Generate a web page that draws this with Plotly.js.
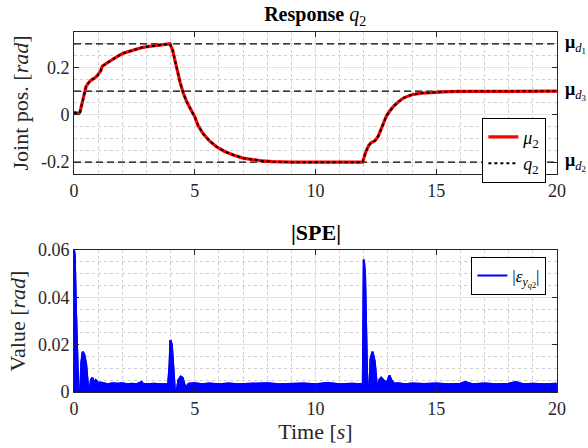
<!DOCTYPE html>
<html>
<head>
<meta charset="utf-8">
<script src="https://cdn.plot.ly/plotly-3.0.1.min.js"></script>
<style>html,body{margin:0;padding:0;background:#fff;}#chart{width:588px;height:448px;}</style>
</head>
<body>
<div id="chart"></div>
<script>
// ---- data ----
var tResp = [0, 0.1, 0.2, 0.25, 0.35, 0.5, 0.6, 0.7, 0.85, 0.97, 1.1, 1.17, 1.35, 1.56, 1.8, 2.03, 2.4, 2.8, 3.1, 3.43, 3.7, 3.97, 4.08, 4.18, 4.29, 4.4, 4.52, 4.67, 4.83, 5.0, 5.14, 5.35, 5.6, 5.9, 6.24, 6.6, 7.0, 7.4, 7.8, 8.2, 8.6, 9.0, 10.0, 11.0, 11.95, 12.08, 12.2, 12.3, 12.47, 12.6, 12.7, 12.82, 12.94, 13.1, 13.25, 13.45, 13.64, 13.85, 14.03, 14.4, 14.8, 15.2, 15.5, 16.0, 17.0, 18.0, 19.0, 20.0];
var mu2 = [0.01, 0.008, 0.006, 0.012, 0.06, 0.12, 0.135, 0.146, 0.155, 0.166, 0.185, 0.205, 0.218, 0.233, 0.247, 0.26, 0.272, 0.284, 0.289, 0.295, 0.297, 0.3, 0.275, 0.23, 0.177, 0.135, 0.093, 0.055, 0.024, -0.008, -0.046, -0.08, -0.109, -0.135, -0.155, -0.17, -0.183, -0.19, -0.195, -0.198, -0.2, -0.2, -0.2, -0.2, -0.2, -0.157, -0.13, -0.118, -0.109, -0.09, -0.067, -0.035, -0.004, 0.02, 0.038, 0.056, 0.071, 0.08, 0.086, 0.092, 0.095, 0.097, 0.098, 0.099, 0.1, 0.1, 0.1, 0.1];
var q2 = [0.01, 0.008, 0.006, 0.012, 0.06, 0.12, 0.135, 0.146, 0.155, 0.166, 0.185, 0.205, 0.218, 0.233, 0.247, 0.26, 0.272, 0.284, 0.289, 0.295, 0.297, 0.3, 0.275, 0.23, 0.177, 0.135, 0.093, 0.055, 0.024, -0.008, -0.046, -0.08, -0.109, -0.135, -0.155, -0.17, -0.183, -0.19, -0.195, -0.198, -0.2, -0.2, -0.2, -0.2, -0.2, -0.157, -0.13, -0.118, -0.109, -0.09, -0.067, -0.035, -0.004, 0.02, 0.038, 0.056, 0.071, 0.08, 0.086, 0.092, 0.095, 0.097, 0.098, 0.099, 0.1, 0.1, 0.1, 0.1];
var muD = [0.3, 0.1, -0.2];
var muDLabels = ['1', '3', '2'];
var tRange = [0, 20];

var tErr = [0, 0.03, 0.08, 0.14, 0.18, 0.26, 0.3, 0.36, 0.42, 0.5, 0.56, 0.6, 0.64, 0.7, 0.76, 0.82, 0.9, 1.0, 1.1, 1.25, 1.4, 1.6, 1.8, 2.0, 2.2, 2.4, 2.6, 2.8, 2.85, 3.0, 3.3, 3.6, 3.9, 3.96, 3.99, 4.05, 4.12, 4.18, 4.25, 4.32, 4.42, 4.5, 4.58, 4.64, 4.75, 5.0, 5.3, 5.6, 6.0, 6.4, 6.8, 7.2, 7.6, 8.0, 8.5, 9.0, 9.5, 10.0, 10.5, 11.0, 11.5, 11.96, 12.0, 12.05, 12.1, 12.15, 12.22, 12.28, 12.36, 12.45, 12.53, 12.58, 12.64, 12.72, 12.82, 12.92, 13.0, 13.06, 13.14, 13.25, 13.4, 13.7, 14.0, 14.5, 15.0, 15.5, 16.0, 16.2, 16.5, 17.0, 17.5, 18.0, 18.3, 18.6, 19.0, 19.5, 19.95, 20.0];
var errSPE = [0.06, 0.058, 0.035, 0.006, 0.0, 0.0, 0.012, 0.017, 0.016, 0.012, 0.004, 0.0, 0.0, 0.005, 0.006, 0.004, 0.005, 0.0038, 0.004, 0.0036, 0.0033, 0.0037, 0.0035, 0.0037, 0.0033, 0.0035, 0.0033, 0.0042, 0.0035, 0.0033, 0.0035, 0.0033, 0.0033, 0.012, 0.022, 0.02, 0.008, 0.0, 0.0, 0.005, 0.0065, 0.006, 0.003, 0.002, 0.0035, 0.0037, 0.0033, 0.0036, 0.0033, 0.0036, 0.0033, 0.0035, 0.0034, 0.0037, 0.0033, 0.0035, 0.0036, 0.0033, 0.0038, 0.0033, 0.0035, 0.0033, 0.056, 0.05, 0.025, 0.0, 0.0, 0.014, 0.017, 0.013, 0.004, 0.0, 0.005, 0.006, 0.005, 0.004, 0.005, 0.007, 0.005, 0.0035, 0.0037, 0.0033, 0.0036, 0.0034, 0.0036, 0.0033, 0.0035, 0.0042, 0.0033, 0.0036, 0.0033, 0.0035, 0.0042, 0.0033, 0.0035, 0.0033, 0.0035, 0.0025];

var topYTicks = [-0.2, 0, 0.2];
var topYTickText = ['-0.2', '0', '0.2'];
var botYTicks = [0, 0.02, 0.04, 0.06];
var botYTickText = ['0', '0.02', '0.04', '0.06'];
var xTicks = [0, 5, 10, 15, 20];

// ---- styling ----
var FONT = 'Liberation Serif, DejaVu Serif, serif';
var axisCommon = {
  showline: true, linecolor: '#262626', linewidth: 1, mirror: 'ticks',
  ticks: 'inside', ticklen: 5, tickcolor: '#262626',
  showgrid: true, gridcolor: '#e3e3e3', gridwidth: 1,
  zeroline: false,
  tickfont: {family: FONT, size: 18, color: '#262626'}
};
function ax(extra) { return Object.assign({}, axisCommon, extra); }
var minorX = {dtick: 1, showgrid: true, gridcolor: '#cfcfcf', griddash: 'dot', gridwidth: 1, ticks: ''};

var traces = [];
muD.forEach(function (v, i) {
  traces.push({x: tRange, y: [v, v], xaxis: 'x', yaxis: 'y', mode: 'lines',
    line: {color: '#000', width: 1.3, dash: '7px,4px'}, showlegend: false, hoverinfo: 'skip'});
});
traces.push({x: tResp, y: mu2, xaxis: 'x', yaxis: 'y', mode: 'lines', name: '<i>μ</i><sub>2</sub>',
  line: {color: '#ff0000', width: 3.2}, legend: 'legend'});
traces.push({x: tResp, y: q2, xaxis: 'x', yaxis: 'y', mode: 'lines', name: '<i>q</i><sub>2</sub>',
  line: {color: '#000', width: 2, dash: 'dot'}, legend: 'legend'});
traces.push({x: tErr, y: errSPE, xaxis: 'x2', yaxis: 'y2', mode: 'lines', showlegend: false,
  line: {color: '#0000ff', width: 2}, fill: 'tozeroy', fillcolor: '#0000ff'});
traces.push({x: tErr, y: errSPE, xaxis: 'x2', yaxis: 'y2', mode: 'lines',
  name: '|<i>ε</i><sub><i>y</i><sub><i>q</i>2</sub></sub>|',
  line: {color: '#0000ff', width: 2}, legend: 'legend2'});

var annotations = muD.map(function (v, i) {
  return {xref: 'paper', yref: 'y', x: 1.013, y: v, xanchor: 'left', yanchor: 'middle', showarrow: false,
    text: '<b>μ</b><sub><i>d</i><sub>' + muDLabels[i] + '</sub></sub>',
    font: {family: FONT, size: 18, color: '#000'}};
});
annotations.push({xref: 'paper', yref: 'paper', x: 0.5, y: 0.394, yshift: 3, xanchor: 'center', yanchor: 'bottom',
  showarrow: false, text: '<b>|SPE|</b>', font: {family: FONT, size: 22, color: '#000'}});

var layout = {
  width: 588, height: 448,
  margin: {l: 74, r: 31, t: 32, b: 56},
  paper_bgcolor: '#fff', plot_bgcolor: '#fff',
  font: {family: FONT, color: '#262626'},
  title: {text: '<b>Response</b> <i>q</i><sub>2</sub>', x: 0.536, xanchor: 'center', y: 0.968, yanchor: 'middle',
    font: {family: FONT, size: 20, color: '#000'}},
  xaxis: ax({domain: [0, 1], range: tRange, anchor: 'y', tickvals: xTicks, minor: minorX}),
  yaxis: ax({domain: [0.6056, 1], range: [-0.25, 0.35], anchor: 'x', tickvals: topYTicks, ticktext: topYTickText,
    minor: {dtick: 0.05, tick0: 0, showgrid: true, gridcolor: '#cfcfcf', griddash: 'dot', gridwidth: 1, ticks: ''},
    title: {text: 'Joint pos. [<i>rad</i>]', font: {family: FONT, size: 22, color: '#262626'}, standoff: 6}}),
  xaxis2: ax({domain: [0, 1], range: tRange, anchor: 'y2', tickvals: xTicks, minor: minorX,
    title: {text: 'Time [<i>s</i>]', font: {family: FONT, size: 22, color: '#262626'}, standoff: 2}}),
  yaxis2: ax({domain: [0, 0.3944], range: [0, 0.06], anchor: 'x2', tickvals: botYTicks, ticktext: botYTickText,
    minor: {dtick: 0.005, tick0: 0, showgrid: true, gridcolor: '#cfcfcf', griddash: 'dot', gridwidth: 1, ticks: ''},
    title: {text: 'Value [<i>rad</i>]', font: {family: FONT, size: 22, color: '#262626'}, standoff: 6}}),
  legend: {x: 0.978, xanchor: 'right', y: 0.762, yanchor: 'top', bgcolor: '#fff', bordercolor: '#000', borderwidth: 1,
    font: {family: FONT, size: 18, color: '#000'}, tracegroupgap: 0},
  legend2: {x: 0.978, xanchor: 'right', y: 0.375, yanchor: 'top', bgcolor: '#fff', bordercolor: '#000', borderwidth: 1,
    font: {family: FONT, size: 17, color: '#000'}},
  annotations: annotations,
  showlegend: true
};

Plotly.newPlot('chart', traces, layout, {staticPlot: true, displayModeBar: false});
</script>
</body>
</html>
